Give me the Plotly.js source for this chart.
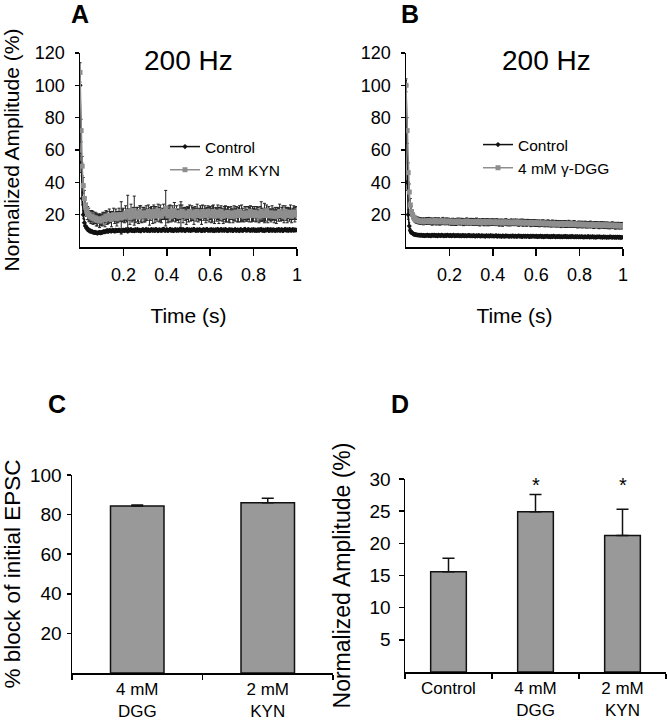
<!DOCTYPE html>
<html>
<head>
<meta charset="utf-8">
<script src="https://cdn.plot.ly/plotly-3.0.1.min.js"></script>
<style>html,body{margin:0;padding:0;background:#fff;}#plot{width:667px;height:720px;}</style>
</head>
<body>
<div id="plot"></div>
<script>
// ---------- DATA ----------
const stimHz = 200; // stimulus frequency, one response per pulse

// Panel A: Control (normalized amplitude, %)
const ctrlA = [
100,52,30,20,15,13,12,11,10.5,10,9.8,9.5,9.2,9,9,8.8,8.6,8.8,9,8.7,
9,9.2,9.5,9.3,9.8,10,9.6,10.2,10,9.8,10.3,10.1,9.9,10.4,10,10.2,10.5,10.1,9.8,10.3,
10.4,10.1,10.6,10.2,9.9,10.5,10.3,10.7,10.1,10.4,10.0,10.6,10.3,10.8,10.2,10.5,9.9,10.4,10.7,10.2,
10.5,10.9,10.3,10.6,10.1,10.4,10.8,10.2,10.6,10.3,10.9,10.5,10.1,10.7,10.4,10.2,10.6,11.0,10.4,10.3,
10.7,10.2,10.5,10.9,10.4,10.6,10.1,10.5,10.8,10.3,10.6,10.2,10.9,10.5,10.3,10.7,10.4,10.1,10.6,10.8,
10.3,10.6,10.2,10.7,10.5,10.9,10.4,10.2,10.6,10.3,10.8,10.5,10.1,10.4,10.7,10.3,10.6,10.9,10.2,10.5,
10.4,10.8,10.3,10.5,10.1,10.6,10.4,10.9,10.2,10.5,10.7,10.3,10.6,10.2,10.8,10.4,10.1,10.5,10.7,10.3,
10.6,10.2,10.5,10.8,10.3,10.6,10.4,10.1,10.7,10.5,10.2,10.6,10.9,10.4,10.3,10.7,10.5,10.2,10.6,10.4,
10.8,10.3,10.5,10.2,10.7,10.4,10.6,10.9,10.3,10.5,10.1,10.6,10.4,10.8,10.2,10.5,10.7,10.3,10.6,10.4,
10.2,10.6,10.4,10.8,10.5,10.3,10.7,10.1,10.5,10.9,10.4,10.6,10.2,10.7,10.5,10.3,10.8,10.4,10.6,10.5
];
const ctrlAErr = [
7,6,4,2.5,2,1.6,1.4,1.3,1.2,1.2,1.1,1.1,1,1,1,1,1,1,1,1,
1,0.9,1.1,0.8,1,1.2,0.9,1,1.1,0.8,1,0.9,1.2,1,0.8,1.1,1,0.9,1.2,1,
0.9,1.1,1,0.8,1.2,1,0.9,1.1,1,0.8,1,1.2,0.9,1,1.1,0.9,1,0.8,1.1,1,
1,0.9,1.2,1,0.8,1.1,1,0.9,1,1.2,0.9,1,1.1,0.8,1,0.9,1.2,1,1.1,0.9,
1,1.1,0.9,1,1.2,0.8,1,1.1,0.9,1,1,0.8,1.2,1,0.9,1.1,1,0.9,1,1.1,
0.9,1,1.1,0.8,1,1.2,0.9,1,1.1,1,0.8,1,0.9,1.2,1,1.1,0.9,1,0.8,1,
1.1,0.9,1,1.2,0.8,1,1.1,0.9,1,1,1.2,0.9,1,0.8,1.1,1,0.9,1.1,1,0.9,
1,1.2,0.9,1,1.1,0.8,1,0.9,1.1,1,1,0.9,1.2,1,0.8,1.1,1,0.9,1,1.1,
0.9,1,1.1,1,0.8,1.2,1,0.9,1,1.1,0.9,1,0.8,1.1,1,1.2,0.9,1,1.1,0.9,
1,0.9,1.1,1,1.2,0.8,1,1.1,0.9,1,1,1.1,0.9,1.2,1,0.8,1,1.1,0.9,1
];

// Panel A: 2 mM KYN
const kynA = [
108,72,50,38,30,26,23,21,20,19,18.5,19,18,17.5,18,17,16.5,17.5,16,17,
16.5,17.5,18,17,19,18,17.5,19.5,18.5,17,19,20,18,19.5,17.5,18.5,20,19,18,19.5,
20,18.5,21,19.5,22,20,18,21.5,19,20.5,22.5,19,21,20,18.5,22,20.5,19,21,20,
19.5,21,20,22,18.5,20.5,21.5,19,22,20,21,19.5,22.5,20,21,19,20.5,22,21,24,
21,19.5,20.5,22,19,21,20,22.5,19.5,21,20,19,21.5,20,22,19.5,21,20.5,19,21,
20,22,19.5,21,20.5,19,21.5,20,22,19.5,20.5,21,19,22,20,21.5,19.5,20.5,22,20,
21,19.5,20.5,22,19,21,20,21.5,19.5,20.5,22,20,19,21,20.5,19.5,21.5,20,19,21,
20.5,19,21,20,21.5,19.5,20,22,19.5,21,20,19,21,20.5,19.5,21,20,22,19.5,20.5,
20,21.5,19.5,20.5,21,19,20.5,22,20,19.5,21,20,22.5,19.5,21,20,19.5,21,20.5,19,
20.5,19,21,20,22,19.5,20.5,21,19,22,20.5,19.5,21,20,21.5,19,20.5,21.5,20,21
];
const kynAErr = [
6,7,6,5,5,4.5,4,4,4,3.5,4,3.5,4,3,3.5,4,3.5,3,4,3.5,
3.5,4,3,4.5,3.5,4,3,4,3.5,4.5,3,4,3.5,4,4.5,3.5,4,3,10,4,
4,3.5,4.5,4,10,3.5,4,5,3.5,4,9,4,3.5,4.5,4,3.5,5,4,3.5,4.5,
4,4.5,3.5,4,5,4,3.5,4.5,4,5,4,3.5,4,4.5,5,4,3.5,4.5,4,11,
4,4.5,5,4,3.5,4.5,4,5,4,4.5,3.5,4,4.5,8,4,4.5,3.5,4,5,4,
4.5,4,3.5,4.5,4,5,3.5,4,4.5,4,3.5,4.5,5,4,3.5,4,4.5,4,3.5,4.5,
4,4.5,5,4,4.5,3.5,4,4.5,5,4,3.5,4,4.5,4,5,4,3.5,4.5,4,4,
3.5,4,4.5,4,3.5,4,4.5,3.5,4,5,4,3.5,4,4.5,3.5,4,4.5,3.5,4,4.5,
4,3.5,4,4.5,3.5,4,4.5,6,4,3.5,6,4,3.5,4.5,4,3.5,4,4.5,3.5,4,
4,4.5,3.5,4,4.5,3.5,4,4.5,4,3.5,4,4.5,3.5,4,4.5,4,3.5,4,4.5,4
];

// Panel B: Control
const ctrlB = [
100,40,20,13,10,9,8.5,8,7.8,7.6,7.5,7.4,7.3,7.2,7.3,7.1,7.2,7.0,7.1,7.2,
7.3,7.0,7.2,6.9,7.3,7.1,7.4,7.0,7.2,6.9,7.3,7.1,7.0,7.4,7.1,6.9,7.2,7.0,7.3,7.1,
7.0,7.2,6.9,7.1,7.3,6.8,7.1,7.0,7.2,6.9,7.1,6.8,7.2,7.0,6.9,7.1,6.8,7.0,7.2,6.9,
7.0,6.8,7.1,6.9,6.7,7.0,6.8,7.1,6.9,6.7,7.0,6.8,6.9,6.6,7.0,6.8,6.9,6.7,7.0,6.8,
6.9,6.7,6.8,7.0,6.6,6.9,6.7,6.8,6.5,6.9,6.7,6.6,6.9,6.7,6.8,6.5,6.8,6.6,6.9,6.7,
6.6,6.8,6.5,6.7,6.9,6.6,6.7,6.4,6.8,6.6,6.7,6.5,6.8,6.6,6.4,6.7,6.5,6.8,6.6,6.5,
6.7,6.4,6.6,6.5,6.8,6.4,6.6,6.3,6.6,6.5,6.7,6.4,6.5,6.3,6.6,6.4,6.7,6.5,6.3,6.5,
6.4,6.6,6.3,6.5,6.2,6.5,6.4,6.6,6.3,6.4,6.2,6.5,6.3,6.6,6.4,6.2,6.4,6.3,6.5,6.2,
6.4,6.2,6.5,6.3,6.1,6.4,6.2,6.3,6.5,6.1,6.3,6.2,6.4,6.1,6.3,6.0,6.3,6.2,6.4,6.1,
6.2,6.0,6.3,6.1,6.2,5.9,6.2,6.0,6.3,6.1,5.9,6.2,6.0,6.1,5.9,6.2,6.0,6.1,5.8,6.0
];
const ctrlBErr = [
3,5,3,2,1.5,1.2,1,1,0.9,0.9,0.9,0.8,0.9,0.8,0.9,0.8,0.9,0.8,0.8,0.9,
0.8,0.9,0.7,0.8,0.9,0.8,0.7,0.9,0.8,0.8,0.9,0.7,0.8,0.9,0.8,0.7,0.8,0.9,0.8,0.7,
0.8,0.7,0.9,0.8,0.7,0.8,0.9,0.8,0.7,0.8,0.8,0.9,0.7,0.8,0.9,0.8,0.7,0.8,0.9,0.8,
0.7,0.8,0.9,0.8,0.7,0.8,0.8,0.9,0.7,0.8,0.9,0.8,0.7,0.8,0.8,0.9,0.7,0.8,0.9,0.8,
0.8,0.7,0.8,0.9,0.8,0.7,0.8,0.9,0.8,0.7,0.8,0.8,0.9,0.7,0.8,0.9,0.8,0.7,0.8,0.9,
0.7,0.8,0.9,0.8,0.7,0.8,0.9,0.8,0.7,0.8,0.9,0.7,0.8,0.8,0.9,0.7,0.8,0.9,0.8,0.7,
0.8,0.9,0.7,0.8,0.9,0.8,0.7,0.8,0.9,0.8,0.7,0.8,0.9,0.8,0.7,0.8,0.8,0.9,0.7,0.8,
0.9,0.8,0.7,0.8,0.9,0.8,0.7,0.8,0.8,0.9,0.7,0.8,0.9,0.8,0.7,0.8,0.9,0.8,0.7,0.8,
0.8,0.9,0.7,0.8,0.9,0.8,0.7,0.8,0.9,0.8,0.7,0.8,0.8,0.9,0.7,0.8,0.9,0.8,0.7,0.8,
0.9,0.8,0.7,0.8,0.9,0.8,0.7,0.8,0.9,0.8,0.7,0.8,0.8,0.9,0.7,0.8,0.9,0.8,0.7,0.8
];

// Panel B: 4 mM gamma-DGG
const dggB = [
100,72,46,34,26,22,20,18.5,17.5,17,16.5,16.5,16,16.2,15.8,16,15.5,16,15.8,16.2,
15.9,16.3,15.7,16.1,15.6,16.0,15.8,16.4,15.5,15.9,16.2,15.6,16.0,15.7,16.3,15.8,15.4,16.0,15.7,16.1,
15.6,15.9,15.3,16.0,15.5,15.8,15.2,15.7,16.1,15.4,15.8,15.5,15.9,15.3,15.7,15.4,16.0,15.5,15.2,15.8,
15.4,15.7,15.1,15.6,15.3,15.8,15.2,15.5,15.0,15.6,15.3,15.7,15.1,15.4,15.8,15.2,15.5,15.0,15.6,15.3,
15.5,15.1,15.4,14.9,15.6,15.2,15.0,15.5,15.3,14.8,15.4,15.1,15.6,15.2,14.9,15.3,15.0,15.5,15.2,14.9,
15.3,15.0,15.6,15.1,14.8,15.4,15.0,15.2,14.7,15.3,15.0,14.8,15.2,14.9,15.1,14.6,15.0,14.8,15.2,14.7,
14.9,14.6,15.0,14.5,14.8,14.4,14.9,14.6,14.3,14.8,14.5,14.7,14.3,14.6,14.2,14.7,14.4,14.1,14.6,14.3,
14.5,14.1,14.4,14.0,14.3,14.6,14.1,14.3,13.9,14.2,14.5,14.0,14.2,13.8,14.1,14.4,13.9,14.1,13.7,14.0,
14.2,13.8,14.0,13.6,13.9,14.1,13.7,13.9,13.5,13.8,14.0,13.6,13.8,13.4,13.7,13.9,13.5,13.7,13.3,13.6,
13.8,13.4,13.6,13.2,13.5,13.7,13.3,13.5,13.1,13.4,13.6,13.2,13.4,13.0,13.3,13.5,13.1,13.3,12.9,13.2
];
const dggBErr = [
4,8,6,5,4,3,2.5,2.2,2,2,2,2,1.8,2,1.8,2,1.8,2,1.8,2,
1.8,2,1.7,1.9,2.1,1.8,2,1.7,1.9,2,1.8,2.1,1.7,1.9,2,1.8,1.7,2,1.9,1.8,
2,1.7,1.9,1.8,2.1,1.7,1.9,2,1.8,1.7,2,1.9,1.8,2.1,1.7,1.9,2,1.8,1.7,1.9,
1.8,2,1.7,1.9,1.8,2.1,1.7,1.9,2,1.8,1.7,1.9,2,1.8,1.7,2.1,1.9,1.8,1.7,2,
1.9,1.8,2,1.7,1.9,1.8,2.1,1.7,1.9,2,1.8,1.7,1.9,2,1.8,1.7,2,1.9,1.8,1.7,
2,1.8,1.7,1.9,2,1.8,1.7,2.1,1.9,1.8,1.7,2,1.9,1.8,1.7,2,1.8,1.9,1.7,2,
1.8,1.9,1.7,2,1.8,1.7,1.9,2,1.8,1.7,1.9,2.1,1.8,1.7,1.9,2,1.8,1.7,1.9,2,
1.8,1.7,1.9,2,1.8,1.7,1.9,2,1.8,1.7,2,1.9,1.8,1.7,1.9,2,1.8,1.7,1.9,2,
1.7,1.9,2,1.8,1.7,1.9,2,1.8,1.7,1.9,2,1.8,1.7,2,1.9,1.8,1.7,1.9,2,1.8,
1.9,1.7,2,1.8,1.9,1.7,2,1.8,1.9,1.7,2,1.8,1.9,2,1.7,1.8,2,1.9,1.7,2
];

// Panel C: % block of initial EPSC
const catsC = ['4 mM<br>DGG', '2 mM<br>KYN'];
const blockC = [84.3, 86.0];
const blockCErr = [0.6, 2.3];

// Panel D: normalized steady-state amplitude (%)
const catsD = ['Control', '4 mM<br>DGG', '2 mM<br>KYN'];
const ampD = [15.6, 24.9, 21.2];
const ampDErr = [2.1, 2.7, 4.1];
const sigD = ['', '*', '*'];

// Tick labels
const timeTicks = [0.2, 0.4, 0.6, 0.8, 1];
const timeTickText = ['0.2', '0.4', '0.6', '0.8', '1'];
const ampTicks = [20, 40, 60, 80, 100, 120];
const blockTicks = [20, 40, 60, 80, 100];
const ampDTicks = [5, 10, 15, 20, 25, 30];

// time of each pulse (s), derived from the stimulus frequency
const timeA = ctrlA.map((_, i) => i / stimHz);
const timeB = ctrlB.map((_, i) => i / stimHz);

// ---------- PLOT ----------
const FONT = 'Arial, "Liberation Sans", Helvetica, sans-serif';
const W = 667, H = 720;
const px = v => v / W;
const py = v => 1 - v / H;

const black = '#111111';
const gray = '#8e8e8e';
const barGray = '#999999';

function ctrlTrace(x, y, err, xa, ya, leg) {
  return {
    type: 'scatter', mode: 'lines+markers', x: x, y: y, name: 'Control',
    xaxis: xa, yaxis: ya, legend: leg,
    line: {color: black, width: 1.5},
    marker: {color: black, symbol: 'diamond', size: 4},
    error_y: {type: 'data', array: err, color: black, thickness: 1, width: 1}
  };
}
function drugTrace(x, y, err, name, xa, ya, leg) {
  return {
    type: 'scatter', mode: 'lines+markers', x: x, y: y, name: name,
    xaxis: xa, yaxis: ya, legend: leg,
    line: {color: gray, width: 1.5},
    marker: {color: gray, symbol: 'square', size: 5},
    error_y: {type: 'data', array: err, color: '#222222', thickness: 1, width: 1.5}
  };
}

const traces = [
  ctrlTrace(timeA, ctrlA, ctrlAErr, 'x', 'y', 'legend'),
  drugTrace(timeA, kynA, kynAErr, '2 mM KYN', 'x', 'y', 'legend'),
  ctrlTrace(timeB, ctrlB, ctrlBErr, 'x2', 'y2', 'legend2'),
  drugTrace(timeB, dggB, dggBErr, '4 mM \u03b3-DGG', 'x2', 'y2', 'legend2'),
  {
    type: 'bar', x: catsC, y: blockC, xaxis: 'x3', yaxis: 'y3', width: 0.41, showlegend: false,
    marker: {color: barGray, line: {color: black, width: 1.5}},
    error_y: {type: 'data', array: blockCErr, arrayminus: blockC.map(() => 0), symmetric: false, color: black, thickness: 1.5, width: 6}
  },
  {
    type: 'bar', x: catsD, y: ampD, xaxis: 'x4', yaxis: 'y4', width: 0.41, showlegend: false,
    marker: {color: barGray, line: {color: black, width: 1.5}},
    error_y: {type: 'data', array: ampDErr, arrayminus: ampD.map(() => 0), symmetric: false, color: black, thickness: 1.5, width: 6}
  }
];

const tickFont = {family: FONT, size: 18, color: '#000'};
const titleFont = {family: FONT, size: 21, color: '#000'};
const catFont = {family: FONT, size: 17, color: '#000'};

function timeAxis(domain, anchor) {
  return {
    domain: domain, anchor: anchor, range: [0, 1], fixedrange: true,
    showline: true, linecolor: '#000', linewidth: 1.5, mirror: false,
    showgrid: false, zeroline: false,
    ticks: 'outside', ticklen: 7, tickwidth: 1.5, tickcolor: '#000',
    tickvals: timeTicks, ticktext: timeTickText, tickfont: tickFont,
    ticklabelstandoff: 4,
    title: {text: 'Time (s)', font: titleFont, standoff: 24}
  };
}
function ampAxis(domain, anchor, withTitle) {
  const ax = {
    domain: domain, anchor: anchor, range: [0, 120], fixedrange: true,
    showline: true, linecolor: '#000', linewidth: 1.5,
    showgrid: false, zeroline: false,
    ticks: 'outside', ticklen: 4, tickwidth: 1.5, tickcolor: '#000',
    tickvals: ampTicks, tickfont: tickFont, ticklabelstandoff: 6
  };
  if (withTitle) ax.title = {text: 'Normalized Amplitude (%)', font: titleFont, standoff: 11};
  return ax;
}
function panelLetter(t, x, y) {
  return {text: '<b>' + t + '</b>', xref: 'paper', yref: 'paper', x: px(x), y: py(y),
    xanchor: 'center', yanchor: 'middle', showarrow: false, font: {family: FONT, size: 25, color: '#000'}};
}
function panelTitle(t, x, y) {
  return {text: t, xref: 'paper', yref: 'paper', x: px(x), y: py(y),
    xanchor: 'center', yanchor: 'middle', showarrow: false, font: {family: FONT, size: 28, color: '#000'}};
}

const layout = {
  width: W, height: H, autosize: false,
  margin: {l: 0, r: 0, t: 0, b: 0, pad: 0},
  paper_bgcolor: '#fff', plot_bgcolor: 'rgba(0,0,0,0)',
  font: {family: FONT, color: '#000'},
  xaxis: timeAxis([px(80), px(297)], 'y'),
  yaxis: ampAxis([1 - 247 / H, 1 - 53 / H], 'x', true),
  xaxis2: timeAxis([px(406), px(623)], 'y2'),
  yaxis2: ampAxis([1 - 247 / H, 1 - 53 / H], 'x2', false),
  xaxis3: {
    domain: [px(72), px(333)], anchor: 'y3', type: 'category', range: [-0.5, 1.5], fixedrange: true,
    showline: true, linecolor: '#000', linewidth: 1.5, showgrid: false, zeroline: false,
    ticks: 'outside', tickson: 'boundaries', ticklen: 5, tickwidth: 1.5, tickcolor: '#000',
    tickfont: catFont, ticklabelstandoff: 0
  },
  yaxis3: {
    domain: [1 - 673 / H, 1 - 475 / H], anchor: 'x3', range: [0, 100], fixedrange: true,
    showline: true, linecolor: '#000', linewidth: 1.5, showgrid: false, zeroline: false,
    ticks: 'outside', ticklen: 4, tickwidth: 1.5, tickcolor: '#000',
    tickvals: blockTicks, tickfont: {family: FONT, size: 19, color: '#000'}, ticklabelstandoff: 1,
    title: {text: '% block of initial EPSC', font: {family: FONT, size: 22.5, color: '#000'}, standoff: 12}
  },
  xaxis4: {
    domain: [px(405), px(666)], anchor: 'y4', type: 'category', range: [-0.5, 2.5], fixedrange: true,
    showline: true, linecolor: '#000', linewidth: 1.5, showgrid: false, zeroline: false,
    ticks: 'outside', tickson: 'boundaries', ticklen: 5, tickwidth: 1.5, tickcolor: '#000',
    tickfont: catFont, ticklabelstandoff: 0
  },
  yaxis4: {
    domain: [1 - 672 / H, 1 - 479 / H], anchor: 'x4', range: [0, 30], fixedrange: true,
    showline: true, linecolor: '#000', linewidth: 1.5, showgrid: false, zeroline: false,
    ticks: 'outside', ticklen: 5, tickwidth: 1.5, tickcolor: '#000',
    tickvals: ampDTicks, tickfont: {family: FONT, size: 19, color: '#000'}, ticklabelstandoff: 4,
    title: {text: 'Normalized Amplitude (%)', font: {family: FONT, size: 23, color: '#000'}, standoff: 12}
  },
  legend: {
    x: px(165), y: py(130), xanchor: 'left', yanchor: 'top',
    bgcolor: 'rgba(0,0,0,0)', borderwidth: 0, tracegroupgap: 0, itemwidth: 30,
    font: {family: FONT, size: 15.5, color: '#000'}
  },
  legend2: {
    x: px(478), y: py(128), xanchor: 'left', yanchor: 'top',
    bgcolor: 'rgba(0,0,0,0)', borderwidth: 0, tracegroupgap: 0, itemwidth: 30,
    font: {family: FONT, size: 15.5, color: '#000'}
  },
  annotations: [
    panelLetter('A', 80, 14),
    panelLetter('B', 410, 14),
    panelLetter('C', 57, 404),
    panelLetter('D', 400, 404),
    panelTitle('200 Hz', 188, 60),
    panelTitle('200 Hz', 546, 60)
  ].concat(catsD.map((c, i) => ({
    text: sigD[i], xref: 'x4', yref: 'y4', x: i, y: 29.0, xanchor: 'center', yanchor: 'middle', showarrow: false,
    font: {family: FONT, size: 20, color: '#000'}
  })).filter(a => a.text !== ''))
};

Plotly.newPlot('plot', traces, layout, {staticPlot: true, displayModeBar: false});
</script>
</body>
</html>
